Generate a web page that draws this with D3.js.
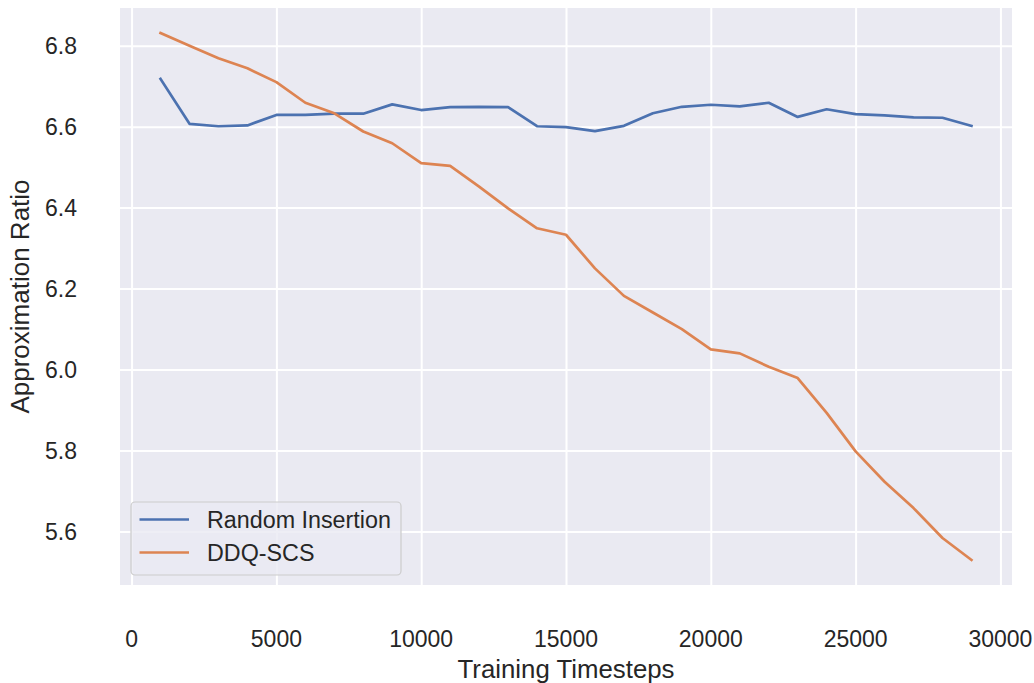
<!DOCTYPE html>
<html>
<head>
<meta charset="utf-8">
<script src="https://cdn.jsdelivr.net/npm/d3@7"></script>
<style>
  body { margin: 0; background: #fff; }
  text { font-family: "Liberation Sans", Arial, sans-serif; fill: #262626; }
</style>
</head>
<body>
<div id="graph-container"></div>
<script>
const timesteps = [1000, 2000, 3000, 4000, 5000, 6000, 7000, 8000, 9000, 10000,
  11000, 12000, 13000, 14000, 15000, 16000, 17000, 18000, 19000, 20000,
  21000, 22000, 23000, 24000, 25000, 26000, 27000, 28000, 29000];

const randomInsertion = [6.718, 6.607, 6.601, 6.603, 6.629, 6.629, 6.632, 6.632, 6.655, 6.641,
  6.648, 6.649, 6.648, 6.601, 6.599, 6.589, 6.602, 6.633, 6.649, 6.654,
  6.650, 6.659, 6.624, 6.643, 6.631, 6.628, 6.623, 6.622, 6.602];

const ddqScs = [6.831, 6.800, 6.769, 6.744, 6.710, 6.659, 6.633, 6.588, 6.559, 6.510,
  6.503, 6.452, 6.398, 6.349, 6.333, 6.250, 6.182, 6.141, 6.100, 6.050,
  6.040, 6.007, 5.979, 5.893, 5.798, 5.723, 5.658, 5.584, 5.530];

const xTicks = [0, 5000, 10000, 15000, 20000, 25000, 30000];
const yTicks = [5.6, 5.8, 6.0, 6.2, 6.4, 6.6, 6.8];

const series = [
  { name: "Random Insertion", values: randomInsertion, color: "#4c72b0" },
  { name: "DDQ-SCS", values: ddqScs, color: "#dd8452" },
];

const width = 1034;
const height = 683;
const plot = { left: 120, right: 1012, top: 8, bottom: 585 };

const svg = d3
  .select("#graph-container")
  .append("svg")
  .attr("width", width)
  .attr("height", height);

const x = d3.scaleLinear().domain([-400, 30400]).range([plot.left, plot.right]);
const y = d3.scaleLinear().domain([5.468, 6.893]).range([plot.bottom, plot.top]);

// background
svg
  .append("rect")
  .attr("x", plot.left)
  .attr("y", plot.top)
  .attr("width", plot.right - plot.left)
  .attr("height", plot.bottom - plot.top)
  .attr("fill", "#eaeaf2");

// grid
const xAxis = d3.axisBottom(x).tickValues(xTicks).tickSize(-(plot.bottom - plot.top)).tickFormat("");
const yAxis = d3.axisLeft(y).tickValues(yTicks).tickSize(-(plot.right - plot.left)).tickFormat("");

const gx = svg.append("g").attr("transform", `translate(0,${plot.bottom})`).call(xAxis);
const gy = svg.append("g").attr("transform", `translate(${plot.left},0)`).call(yAxis);
[gx, gy].forEach((g) => {
  g.select(".domain").remove();
  g.selectAll("line").attr("stroke", "#fff").attr("stroke-width", 2);
});

// tick labels
svg
  .selectAll("text.xtick")
  .data(xTicks)
  .enter()
  .append("text")
  .attr("class", "xtick")
  .attr("x", (d) => x(d))
  .attr("y", 646.5)
  .attr("text-anchor", "middle")
  .attr("font-size", 23)
  .text((d) => d);

svg
  .selectAll("text.ytick")
  .data(yTicks)
  .enter()
  .append("text")
  .attr("class", "ytick")
  .attr("x", 77)
  .attr("y", (d) => y(d))
  .attr("dy", "0.36em")
  .attr("text-anchor", "end")
  .attr("font-size", 23)
  .text((d) => d.toFixed(1));

// axis titles
svg
  .append("text")
  .attr("x", (plot.left + plot.right) / 2)
  .attr("y", 678)
  .attr("text-anchor", "middle")
  .attr("font-size", 25.8)
  .text("Training Timesteps");

svg
  .append("text")
  .attr("transform", `translate(29,${(plot.top + plot.bottom) / 2}) rotate(-90)`)
  .attr("text-anchor", "middle")
  .attr("font-size", 26)
  .text("Approximation Ratio");

// lines
const line = d3
  .line()
  .x((d, i) => x(timesteps[i]))
  .y((d) => y(d));

svg
  .selectAll("path.series")
  .data(series)
  .enter()
  .append("path")
  .attr("class", "series")
  .attr("fill", "none")
  .attr("stroke", (d) => d.color)
  .attr("stroke-width", 2.7)
  .attr("stroke-linejoin", "round")
  .attr("stroke-linecap", "square")
  .attr("d", (d) => line(d.values));

// legend
const legend = svg.append("g");
legend
  .append("rect")
  .attr("x", 131)
  .attr("y", 502)
  .attr("width", 270)
  .attr("height", 73)
  .attr("rx", 4)
  .attr("fill", "#eaeaf2")
  .attr("fill-opacity", 0.8)
  .attr("stroke", "#cccccc")
  .attr("stroke-width", 1.2);

series.forEach((s, i) => {
  const ly = 519.5 + i * 33;
  legend
    .append("line")
    .attr("x1", 139.5)
    .attr("x2", 189)
    .attr("y1", ly)
    .attr("y2", ly)
    .attr("stroke", s.color)
    .attr("stroke-width", 2.7);
  legend
    .append("text")
    .attr("x", 207)
    .attr("y", ly + 8.3)
    .attr("font-size", 23.3)
    .text(s.name);
});
</script>
</body>
</html>
